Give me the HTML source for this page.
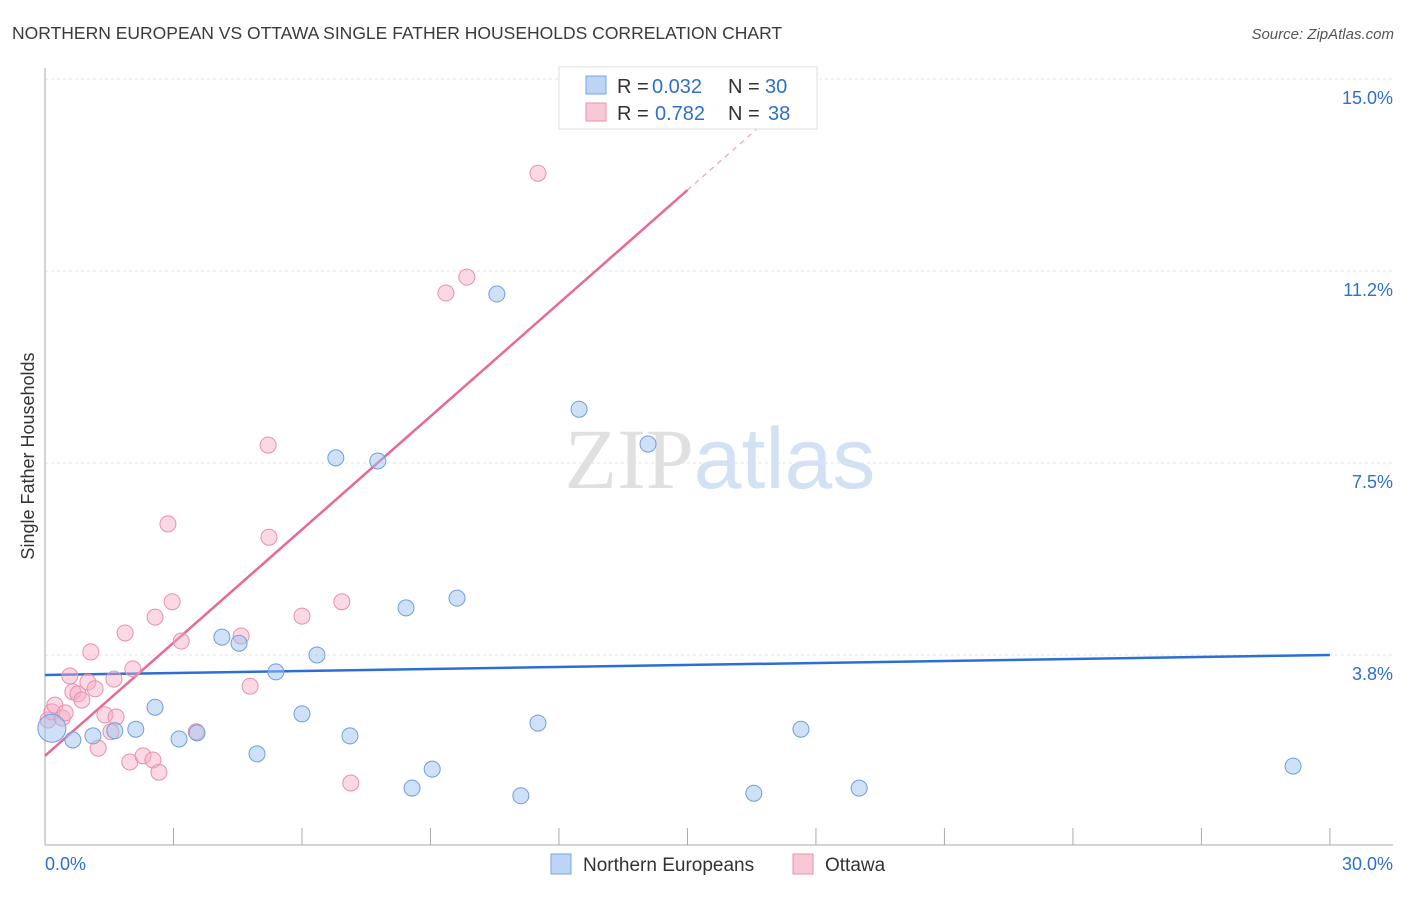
<!DOCTYPE html>
<html><head><meta charset="utf-8"><style>
body{margin:0;background:#fff;font-family:"Liberation Sans",sans-serif;}
svg text{font-family:"Liberation Sans",sans-serif;}
</style></head><body>
<svg id="chart" width="1406" height="892" xmlns="http://www.w3.org/2000/svg">
<text x="12" y="39" font-size="17.5" fill="#3a3a3a">NORTHERN EUROPEAN VS OTTAWA SINGLE FATHER HOUSEHOLDS CORRELATION CHART</text>
<text x="1394" y="39" font-size="15" fill="#555" text-anchor="end" font-style="italic">Source: ZipAtlas.com</text>
<text x="720" y="488" font-size="86" text-anchor="middle"><tspan fill="#e0e0e0" font-family="Liberation Serif">ZIP</tspan><tspan fill="#d3e1f5">atlas</tspan></text>
<text transform="translate(34,456) rotate(-90)" font-size="18" fill="#333" text-anchor="middle">Single Father Households</text>
<g id="grid"></g><g id="axes"></g><g id="trend"></g><g id="pts"></g>
<g>
<rect x="559" y="67" width="258" height="62" fill="#fff" stroke="#ddd"/>
<rect x="586" y="76" width="20" height="18" fill="#bcd4f5" stroke="#7aa5e0"/>
<rect x="586" y="103" width="20" height="18" fill="#f9c8d6" stroke="#e890aa"/>
<text x="617" y="93" font-size="20" fill="#333">R =</text>
<text x="652" y="93" font-size="20" fill="#2e6fcc">0.032</text>
<text x="728" y="93" font-size="20" fill="#333">N =</text>
<text x="765" y="93" font-size="20" fill="#2e6fcc">30</text>
<text x="617" y="120" font-size="20" fill="#333">R =</text>
<text x="655" y="120" font-size="20" fill="#2e6fcc">0.782</text>
<text x="728" y="120" font-size="20" fill="#333">N =</text>
<text x="768" y="120" font-size="20" fill="#2e6fcc">38</text>
</g>
<g>
<rect x="551" y="854" width="20" height="20" fill="#bcd4f5" stroke="#7aa5e0"/>
<text x="583" y="871" font-size="19" fill="#333">Northern Europeans</text>
<rect x="793" y="854" width="20" height="20" fill="#f9c8d6" stroke="#e890aa"/>
<text x="825" y="871" font-size="19" fill="#333">Ottawa</text>
</g>
</svg>
<script>
const yTicks=[3.75,7.5,11.25,15];
const yTickLabels=["3.8%","7.5%","11.2%","15.0%"];
const xTicks=[0,3,6,9,12,15,18,21,24,27,30];
const blueX=[0.16,0.65,1.12,1.63,2.12,2.57,3.13,3.55,4.13,4.53,4.95,5.39,6.00,6.35,6.79,7.12,7.77,8.43,8.57,9.04,9.62,10.55,11.11,11.51,12.47,14.08,16.55,17.65,19.01,29.14];
const blueY=[2.32,2.09,2.17,2.27,2.30,2.73,2.11,2.23,4.10,3.98,1.82,3.42,2.60,3.75,7.60,2.17,7.54,4.67,1.15,1.52,4.86,10.80,1.00,2.42,8.55,7.87,1.05,2.30,1.15,1.58];
const pinkX=[0.07,0.16,0.23,0.40,0.47,0.58,0.65,0.77,0.86,1.00,1.07,1.17,1.24,1.40,1.54,1.61,1.66,1.87,1.98,2.05,2.29,2.52,2.57,2.66,2.87,2.97,3.18,3.53,4.58,4.79,5.21,5.23,6.00,6.93,7.14,9.36,9.85,11.51];
const pinkY=[2.48,2.64,2.77,2.52,2.62,3.34,3.03,2.99,2.87,3.22,3.81,3.09,1.93,2.58,2.25,3.28,2.54,4.18,1.66,3.48,1.78,1.70,4.49,1.46,6.31,4.79,4.02,2.25,4.12,3.14,7.85,6.05,4.51,4.79,1.25,10.82,11.13,13.16];
const blueTrend=[3.36,3.75];
const pinkTrend=[1.78,12.83];
const NS="http://www.w3.org/2000/svg";
const X=v=>45+v*42.83, Y=v=>847-v*51.2;
function mk(t,a,p){const e=document.createElementNS(NS,t);for(const k in a)e.setAttribute(k,a[k]);document.getElementById(p).appendChild(e);return e;}
yTicks.forEach((t,i)=>{
 const g=mk('line',{x1:45,x2:1393,y1:Y(t),y2:Y(t),stroke:'#e2e2e2','stroke-dasharray':'3,3'},'grid');
 
 
 const l=mk('text',{x:1393,y:Y(t)+25,'font-size':18,fill:'#2e6fcc','text-anchor':'end'},'axes');
 l.textContent=yTickLabels[i];
 
 
});
const ax=mk('line',{x1:45,x2:1393,y1:845,y2:845,stroke:'#aaa'},'axes');


const ay=mk('line',{x1:45,x2:45,y1:68,y2:845,stroke:'#aaa'},'axes');


xTicks.forEach(t=>{const e=mk('line',{x1:X(t),x2:X(t),y1:828,y2:845,stroke:'#aaa'},'axes');
 
 });
[["0.0%",45,'start'],["30.0%",1393,'end']].forEach(d=>{const e=mk('text',{x:d[1],y:870,'font-size':18,fill:'#2e6fcc','text-anchor':d[2]},'axes');e.textContent=d[0];
 
 });
pinkX.forEach((x,i)=>{const c=mk('circle',{cx:X(x),cy:Y(pinkY[i]),r:8,fill:'rgba(245,170,195,0.45)',stroke:'#e890aa','stroke-width':1},'pts');
 
 });
blueX.forEach((x,i)=>{const c=mk('circle',{cx:X(x),cy:Y(blueY[i]),r:i==0?14:8,fill:'rgba(160,195,240,0.5)',stroke:'#6f9ede','stroke-width':1},'pts');
 
 });
const bt=mk('line',{x1:X(0),y1:Y(blueTrend[0]),x2:X(30),y2:Y(blueTrend[1]),stroke:'#2b6fd6','stroke-width':2.5},'trend');


const sl=(pinkTrend[1]-pinkTrend[0])/15;
const pt=mk('line',{x1:X(0),y1:Y(pinkTrend[0]),x2:X(15),y2:Y(pinkTrend[1]),stroke:'#e8689a','stroke-width':2.5},'trend');


const pd=mk('line',{x1:X(15),y1:Y(pinkTrend[1]),x2:X(17.3),y2:Y(pinkTrend[0]+sl*17.3),stroke:'#f0b0c8','stroke-width':1.5,'stroke-dasharray':'5,5'},'trend');


</script>
</body></html>
